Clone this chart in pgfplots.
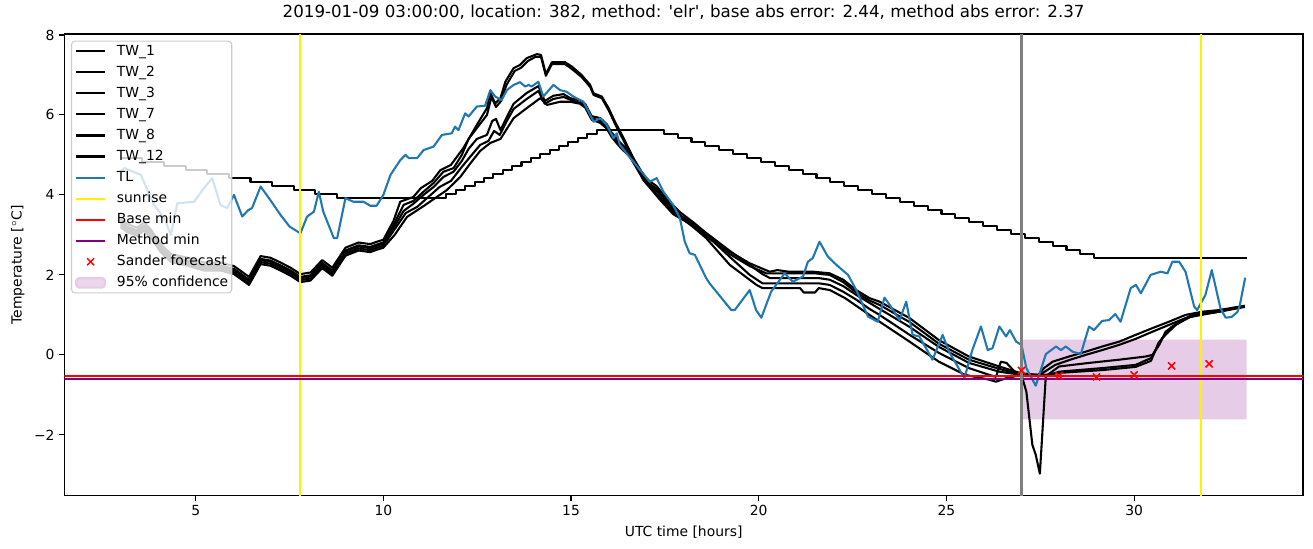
\documentclass[border=0pt]{standalone}
\usepackage{fontspec}
\setmainfont{DejaVu Sans}
\usepackage{pgfplots}
\pgfplotsset{compat=1.18}
\definecolor{tlblue}{HTML}{1F77B4}
\definecolor{confcol}{RGB}{230,204,230}
\definecolor{mpurple}{HTML}{800080}
\definecolor{mgray}{HTML}{808080}
\definecolor{legedge}{HTML}{CCCCCC}
\begin{document}
\begin{tikzpicture}
\path (-46.3pt,-37.9pt) rectangle (899.1pt,355.9pt);
\begin{axis}[
  at={(0pt,0pt)}, anchor=south west,
  scale only axis, width=891.9pt, height=332.6pt,
  xmin=1.5, xmax=34.5, ymin=-3.525, ymax=8.025,
  xtick={5,10,15,20,25,30}, xticklabels={5,10,15,20,25,30},
  ytick={-2,0,2,4,6,8}, yticklabels={−2,0,2,4,6,8},
  tick pos=left, tick align=outside, major tick length=3.5pt,
  tick style={line width=0.8pt, black},
  axis line style={line width=0.8pt},
  ticklabel style={font=\fontsize{10}{12}\selectfont},
  xlabel={UTC time [hours]}, ylabel={Temperature [$^\circ$C]},
  label style={font=\fontsize{10}{12}\selectfont},
  title={2019-01-09 03:00:00, location: 382, method: \textquotesingle elr\textquotesingle, base abs error: 2.44, method abs error: 2.37},
  title style={font=\fontsize{12}{14}\selectfont, at={(axis description cs:0.5,1)}, anchor=base, yshift=6pt},
  legend image code/.code={\draw[mark repeat=2,mark phase=2,line width=1.5pt,#1] plot coordinates {(0pt,0pt) (10.5pt,0pt) (21pt,0pt)};},
  legend cell align=left,
  legend style={at={(axis description cs:0,1)}, anchor=north west, xshift=4.8pt, yshift=-4.8pt,
    font=\fontsize{10}{12}\selectfont, draw=legedge, line width=0.8pt, fill=white, fill opacity=0.8, text opacity=1, draw opacity=1,
    rounded corners=2.5pt, inner xsep=2.5pt, inner ysep=2pt, column sep=7.7pt, row sep=4.66pt,
    nodes={inner sep=0pt, text height=8pt, text depth=2.5pt}},
  every axis plot/.append style={line width=1.5pt, line join=round},
]
% confidence region
\addplot[draw=none, fill=confcol, forget plot] coordinates {(27,-1.61) (33,-1.61) (33,0.38) (27,0.38)} \closedcycle;

% TW_1
\addplot[black] coordinates {
(3.0,3.39)(3.18,3.27)(3.44,3.18)(3.62,3.31)(3.8,3.14)(4.07,2.77)(4.34,2.52)(4.78,2.43)(5.22,2.31)(5.66,2.31)(6.02,2.22)(6.2,2.1)(6.42,1.95)(6.73,2.47)(6.99,2.43)(7.26,2.31)(7.53,2.18)(7.79,2.02)(8.06,2.06)(8.37,2.37)(8.64,2.18)(8.99,2.68)(9.34,2.81)(9.65,2.77)(9.83,2.83)(10.0,2.88)
(10.27,3.35)(10.45,3.83)(10.8,3.95)(11.0,4.17)(11.3,4.35)(11.52,4.62)(11.8,4.75)(12.13,5.17)(12.49,5.75)(12.76,6.17)
(12.85,6.55)(12.98,6.29)(13.12,6.42)(13.25,6.83)(13.47,7.17)(13.64,7.25)(13.82,7.42)(14.09,7.52)(14.2,7.5)(14.33,7.02)(14.49,7.32)(14.84,7.32)(15.02,7.21)(15.28,7.0)(15.51,6.75)(15.6,6.54)(15.82,6.46)(16.0,6.17)(16.17,5.83)(16.4,5.42)(16.66,4.92)(16.92,4.42)(17.37,3.92)(17.72,3.58)(18.16,3.33)
(18.7,2.96)(19.23,2.58)(19.76,2.29)(20.29,2.08)(20.5,2.12)(20.8,2.08)(21.45,2.08)(21.89,2.04)(22.25,1.88)(22.6,1.62)(22.95,1.42)(23.22,1.33)(24.02,0.92)(24.8,0.37)(25.6,-0.04)(26.41,-0.29)(26.85,-0.42)(27.0,-0.46)(27.45,-0.5)(27.6,-0.33)(27.83,-0.17)(28.27,-0.04)(28.71,0.08)(29.15,0.21)(29.6,0.33)(30.04,0.5)(30.49,0.67)(30.93,0.83)(31.37,1.0)(31.82,1.08)(32.26,1.12)(32.95,1.23)
};
\addlegendentry{TW\_1}
% TW_2
\addplot[black] coordinates {
(3.0,3.32)(3.18,3.2)(3.44,3.11)(3.62,3.24)(3.8,3.07)(4.07,2.7)(4.34,2.45)(4.78,2.36)(5.22,2.24)(5.66,2.24)(6.02,2.15)(6.2,2.03)(6.42,1.88)(6.73,2.4)(6.99,2.36)(7.26,2.24)(7.53,2.11)(7.79,1.95)(8.06,1.99)(8.37,2.3)(8.64,2.11)(8.99,2.61)(9.34,2.74)(9.65,2.7)(9.83,2.76)(10.0,2.81)
(10.27,3.25)(10.54,3.75)(10.8,3.85)(11.07,4.08)(11.34,4.3)(11.6,4.58)(11.87,4.67)(12.09,5.0)(12.27,5.4)(12.49,5.67)(12.76,6.0)
(12.88,6.45)(13.0,6.2)(13.14,6.35)(13.28,6.75)(13.5,7.1)(13.67,7.18)(13.85,7.35)(14.05,7.45)(14.2,7.45)(14.33,6.98)(14.49,7.27)(14.84,7.27)(15.02,7.15)(15.28,6.95)(15.51,6.7)(15.6,6.5)(15.82,6.42)(16.0,6.12)(16.17,5.78)(16.4,5.36)(16.66,4.88)(16.92,4.38)(17.37,3.88)(17.72,3.52)(18.16,3.28)
(18.7,2.9)(19.23,2.52)(19.76,2.22)(20.2,2.04)(21.5,2.04)(21.89,2.0)(22.25,1.82)(22.6,1.56)(22.95,1.36)(23.22,1.25)(24.02,0.82)(24.8,0.28)(25.6,-0.12)(26.41,-0.35)(27.0,-0.5)(27.5,-0.5)(27.65,-0.4)(27.9,-0.25)(28.3,-0.12)(28.71,0.0)(29.15,0.12)(29.6,0.25)(30.04,0.4)(30.49,0.58)(30.93,0.75)(31.37,0.92)(31.82,1.02)(32.26,1.08)(32.95,1.2)
};
\addlegendentry{TW\_2}
% TW_3
\addplot[black] coordinates {
(3.0,3.29)(3.18,3.17)(3.44,3.08)(3.62,3.21)(3.8,3.04)(4.07,2.67)(4.34,2.42)(4.78,2.33)(5.22,2.21)(5.66,2.21)(6.02,2.12)(6.2,2.0)(6.42,1.85)(6.73,2.37)(6.99,2.33)(7.26,2.21)(7.53,2.08)(7.79,1.92)(8.06,1.96)(8.37,2.27)(8.64,2.08)(8.99,2.58)(9.34,2.71)(9.65,2.67)(9.83,2.73)(10.0,2.78)
(10.27,3.17)(10.54,3.6)(10.8,3.78)(11.07,4.0)(11.34,4.2)(11.6,4.45)(11.87,4.58)(12.09,4.85)(12.27,5.15)(12.49,5.4)(12.76,5.5)
(12.9,5.85)(13.0,5.9)(13.12,5.62)(13.29,5.95)(13.47,6.28)(13.82,6.55)(14.13,6.72)(14.3,6.35)(14.53,6.48)(14.8,6.52)(14.98,6.42)(15.24,6.36)(15.38,6.27)(15.55,5.97)(15.78,5.92)(15.95,5.77)(16.08,5.56)(16.3,5.32)(16.57,5.06)(16.84,4.64)(17.01,4.4)(17.28,4.22)(17.55,3.9)(17.9,3.57)(18.25,3.32)
(18.6,3.05)(19.23,2.6)(19.76,2.25)(20.1,2.02)(20.3,1.92)(21.6,1.92)(21.89,1.88)(22.25,1.72)(22.6,1.5)(22.95,1.3)(23.22,1.15)(24.02,0.7)(24.8,0.2)(25.6,-0.2)(26.41,-0.42)(27.0,-0.5)(27.7,-0.5)(28.0,-0.29)(28.71,-0.21)(29.6,-0.12)(30.31,-0.04)(30.49,0.0)(30.67,0.25)(30.84,0.58)(31.2,0.83)(31.55,1.0)(32.26,1.08)(32.95,1.22)
};
\addlegendentry{TW\_3}
% TW_7
\addplot[black] coordinates {
(3.0,3.24)(3.18,3.12)(3.44,3.03)(3.62,3.16)(3.8,2.99)(4.07,2.62)(4.34,2.37)(4.78,2.28)(5.22,2.16)(5.66,2.16)(6.02,2.07)(6.2,1.95)(6.42,1.8)(6.73,2.32)(6.99,2.28)(7.26,2.16)(7.53,2.03)(7.79,1.87)(8.06,1.91)(8.37,2.22)(8.64,2.03)(8.99,2.53)(9.34,2.66)(9.65,2.62)(9.83,2.68)(10.0,2.73)
(10.27,3.1)(10.6,3.55)(10.9,3.7)(11.2,3.95)(11.5,4.2)(11.8,4.35)(12.09,4.7)(12.31,4.95)(12.58,5.25)(12.8,5.35)
(12.95,5.6)(13.1,5.5)(13.29,5.85)(13.47,6.15)(13.82,6.4)(14.13,6.6)(14.3,6.28)(14.53,6.4)(14.8,6.45)(14.98,6.38)(15.24,6.3)(15.38,6.22)(15.55,5.92)(15.78,5.85)(15.95,5.7)(16.08,5.5)(16.3,5.25)(16.57,5.0)(16.84,4.58)(17.01,4.33)(17.28,4.15)(17.55,3.83)(17.9,3.5)(18.25,3.25)
(18.6,3.0)(19.23,2.45)(19.76,2.0)(20.1,1.79)(21.6,1.79)(21.89,1.75)(22.25,1.58)(22.6,1.38)(22.95,1.15)(23.22,1.0)(24.02,0.5)(24.8,0.05)(25.6,-0.33)(26.14,-0.5)(26.32,-0.55)(26.45,-0.17)(26.6,-0.2)(26.85,-0.45)(27.0,-0.5)(27.7,-0.52)(28.0,-0.42)(29.15,-0.33)(30.04,-0.25)(30.45,-0.08)(30.75,0.42)(31.11,0.75)(31.55,1.0)(32.26,1.1)(32.95,1.22)
};
\addlegendentry{TW\_7}
% TW_8
\addplot[black] coordinates {
(3.0,3.19)(3.18,3.07)(3.44,2.98)(3.62,3.11)(3.8,2.94)(4.07,2.57)(4.34,2.32)(4.78,2.23)(5.22,2.11)(5.66,2.11)(6.02,2.02)(6.2,1.9)(6.42,1.75)(6.73,2.27)(6.99,2.23)(7.26,2.11)(7.53,1.98)(7.79,1.82)(8.06,1.86)(8.37,2.17)(8.64,1.98)(8.99,2.48)(9.34,2.61)(9.65,2.57)(9.83,2.63)(10.0,2.68)
(10.3,3.0)(10.63,3.45)(11.07,3.72)(11.69,4.12)(12.05,4.45)(12.31,4.78)(12.58,5.1)(12.85,5.3)(13.12,5.4)
(13.47,5.92)(13.82,6.17)(14.18,6.42)(14.36,6.25)(14.71,6.33)(14.98,6.33)(15.24,6.28)(15.38,6.18)(15.55,5.88)(15.78,5.8)(15.95,5.66)(16.08,5.45)(16.3,5.2)(16.57,4.95)(16.84,4.52)(17.01,4.28)(17.28,4.1)(17.55,3.78)(17.9,3.45)(18.25,3.2)
(18.6,2.92)(19.23,2.25)(19.94,1.75)(20.1,1.67)(21.1,1.67)(21.2,1.56)(21.5,1.56)(21.6,1.67)(21.9,1.62)(22.3,1.42)(22.95,1.0)(23.22,0.83)(24.02,0.33)(24.8,-0.17)(25.5,-0.5)(26.14,-0.62)(26.32,-0.67)(26.6,-0.58)(27.0,-0.5)(27.13,-0.92)(27.29,-2.25)(27.38,-2.5)(27.49,-2.97)(27.65,-0.5)(28.0,-0.45)(29.15,-0.38)(30.04,-0.3)(30.45,-0.15)(30.65,0.3)(31.0,0.7)(31.5,0.95)(32.26,1.08)(32.95,1.22)
};
\addlegendentry{TW\_8}
% TW_12
\addplot[black, const plot, legend image code/.code={\draw[line width=1.5pt, black] (0pt,0pt) -- (21pt,0pt);}] coordinates {
(3.0,4.92)(3.58,4.82)(4.15,4.72)(4.73,4.62)(5.31,4.52)(5.89,4.42)(6.46,4.32)(7.04,4.22)(7.62,4.12)(8.19,4.02)(8.77,3.92)
(11.43,3.92)(11.68,4.02)(11.93,4.12)(12.18,4.22)(12.43,4.32)(12.68,4.42)(12.93,4.52)(13.18,4.62)(13.43,4.72)(13.68,4.82)(13.93,4.92)(14.18,5.02)(14.43,5.12)(14.68,5.22)(14.93,5.32)(15.18,5.42)(15.43,5.52)(15.68,5.62)
(17.10,5.62)(17.47,5.52)(17.84,5.42)(18.21,5.32)(18.58,5.22)(18.95,5.12)(19.32,5.02)(19.69,4.92)(20.06,4.82)(20.43,4.72)(20.80,4.62)(21.17,4.52)(21.54,4.42)(21.91,4.32)(22.28,4.22)(22.65,4.12)(23.02,4.02)(23.39,3.92)(23.76,3.82)(24.13,3.72)(24.50,3.62)(24.87,3.52)(25.24,3.42)(25.61,3.32)(25.98,3.22)(26.35,3.12)(26.72,3.02)(27.09,2.92)(27.46,2.82)(27.83,2.72)(28.20,2.62)(28.57,2.52)(28.94,2.42)(33.0,2.42)
};
\addlegendentry{TW\_12}
% TL
\addplot[tlblue] coordinates {
(3.0,4.58)(3.1,4.67)(3.54,4.5)(3.89,3.75)(4.16,3.42)(4.34,3.0)(4.51,3.79)(4.96,3.83)(5.22,4.17)(5.44,4.42)(5.66,3.75)(5.84,3.67)(6.02,4.0)(6.24,3.46)(6.4,3.62)(6.5,3.67)(6.73,4.21)(6.99,3.87)(7.26,3.5)(7.5,3.21)(7.79,3.04)(7.97,3.46)(8.15,3.58)(8.28,4.08)(8.4,3.58)(8.68,2.92)(8.77,2.92)(8.99,3.92)(9.2,3.83)(9.47,3.83)(9.65,3.73)(9.82,3.73)(10.0,4.0)(10.19,4.5)(10.45,4.87)(10.59,5.0)(10.68,4.92)(10.9,4.92)(11.07,5.12)(11.34,5.21)(11.56,5.5)(11.82,5.54)(11.91,5.71)(12.0,5.62)(12.18,6.04)(12.27,5.96)(12.49,6.21)(12.71,6.23)(12.85,6.62)(12.98,6.46)(13.15,6.37)(13.29,6.62)(13.47,6.75)(13.64,6.82)(13.78,6.71)(13.87,6.75)(13.95,6.71)(14.13,6.83)(14.26,6.46)(14.53,6.75)(14.71,6.62)(14.88,6.58)(15.06,6.46)(15.33,6.33)(15.47,6.08)(15.6,5.83)(15.78,5.92)(15.95,5.75)(16.13,5.42)(16.22,5.54)(16.3,5.25)(16.66,4.83)(17.1,4.33)(17.28,4.42)(17.46,4.08)(17.72,3.75)(17.9,3.42)(18.03,2.83)(18.16,2.54)(18.3,2.5)(18.6,1.92)(18.69,1.79)(19.27,1.12)(19.36,1.12)(19.76,1.62)(19.93,1.12)(20.07,0.93)(20.33,1.58)(20.69,2.04)(20.91,1.83)(21.18,1.96)(21.31,2.33)(21.44,2.42)(21.62,2.83)(21.84,2.46)(22.07,2.25)(22.38,2.0)(22.6,1.62)(22.91,0.96)(23.17,0.83)(23.35,1.43)(23.49,1.25)(23.75,0.87)(23.93,1.33)(24.1,0.5)(24.28,0.46)(24.63,-0.12)(24.9,0.5)(25.07,0.08)(25.48,-0.58)(25.69,0.12)(25.92,0.71)(26.1,0.12)(26.23,0.17)(26.41,0.71)(26.59,0.46)(26.69,0.62)(26.86,0.33)(27.0,0.25)(27.13,-0.33)(27.38,-0.77)(27.65,0.02)(27.92,0.21)(28.05,0.12)(28.18,0.21)(28.36,0.08)(28.58,0.02)(28.8,0.71)(28.93,0.62)(29.15,0.85)(29.33,0.87)(29.5,1.02)(29.64,0.83)(29.91,1.67)(30.05,1.75)(30.18,1.54)(30.44,2.0)(30.71,2.08)(30.89,2.04)(31.02,2.33)(31.2,2.33)(31.37,2.08)(31.6,1.21)(31.68,1.12)(31.9,1.5)(32.07,2.12)(32.3,1.17)(32.44,0.93)(32.6,0.95)(32.75,1.07)(32.81,1.21)(32.96,1.93)
};
\addlegendentry{TL}
% sunrise
\addplot[yellow] coordinates {(7.79,-3.525) (7.79,8.025)};
\addlegendentry{sunrise}
\addplot[yellow, forget plot] coordinates {(31.78,-3.525) (31.78,8.025)};
% base min / method min
\addplot[red] coordinates {(1.5,-0.535) (34.5,-0.535)};
\addlegendentry{Base min}
\addplot[mpurple] coordinates {(1.5,-0.605) (34.5,-0.605)};
\addlegendentry{Method min}
% gray line
\addplot[mgray, forget plot, line width=1.5pt] coordinates {(27,-3.525) (27,8.025)};
% Sander forecast
\addplot[red, only marks, mark=x, mark size=3.6pt, mark options={line width=1.1pt}] coordinates {
(27,-0.39)(28,-0.52)(29,-0.55)(30,-0.50)(31,-0.275)(32,-0.225)};
\addlegendentry{Sander forecast}
\addlegendimage{legend image code/.code={\fill[confcol] (0pt,-3.5pt) rectangle (21pt,3.5pt);}}
\addlegendentry{95\% confidence}
\end{axis}
\end{tikzpicture}
\end{document}
